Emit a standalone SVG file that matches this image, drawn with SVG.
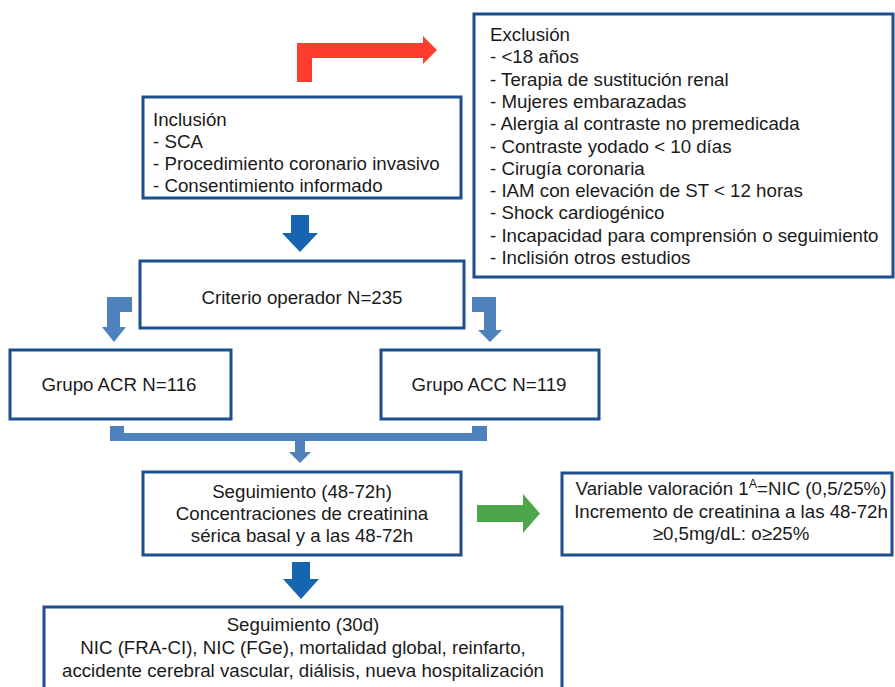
<svg xmlns="http://www.w3.org/2000/svg" width="895" height="687" viewBox="0 0 895 687">
<style>
.box{fill:#fff;stroke:#1d4f8e;stroke-width:3}
text{font-family:"Liberation Sans",Arial,sans-serif;font-size:18.7px;fill:#1a1a1a}
.c{text-anchor:middle}
.lb{fill:#4f81bd}
.db{fill:#1565b0}
.red{fill:#ff3d2e}
.gr{fill:#4ea64b}
</style>
<g id="connectors">
<path class="red" d="M297,82 V43 H423 V36 L437,50 L423,64 V58 H312 V82 Z"/>
<path class="db" d="M291,215 H309 V233 H318 L300,252 L282,233 H291 Z"/>
<path class="lb" d="M132,297 V312 H120 V327 H126 L114,342 L102,327 H107 V297 Z"/>
<path class="lb" d="M472,297 V312 H484 V330 H478 L490,342 L502,330 H496 V297 Z"/>
<path class="lb" d="M110,426 H124 V433 H472 V426 H487 V441 H305 V452 H311 L300,463 L289,452 H295 V441 H110 Z"/>
<path class="gr" d="M477,505 H523 V494 L540,513.5 L523,533 V522 H477 Z"/>
<path class="db" d="M292,562 H310 V579 H319 L301,599 L283,579 H292 Z"/>
</g>
<g id="exclusion">
<rect class="box" x="474" y="14" width="419" height="263"/>
<text x="490" y="41">Exclusión</text>
<text x="490" y="63.3">- &lt;18 años</text>
<text x="490" y="85.6">- Terapia de sustitución renal</text>
<text x="490" y="107.9">- Mujeres embarazadas</text>
<text x="490" y="130.2">- Alergia al contraste no premedicada</text>
<text x="490" y="152.5">- Contraste yodado &lt; 10 días</text>
<text x="490" y="174.8">- Cirugía coronaria</text>
<text x="490" y="197.1">- IAM con elevación de ST &lt; 12 horas</text>
<text x="490" y="219.4">- Shock cardiogénico</text>
<text x="490" y="241.7">- Incapacidad para comprensión o seguimiento</text>
<text x="490" y="264">- Inclisión otros estudios</text>
</g>
<g id="inclusion">
<rect class="box" x="143" y="97" width="318" height="101"/>
<text x="153" y="125.5">Inclusión</text>
<text x="153" y="147.8">- SCA</text>
<text x="153" y="170.1">- Procedimiento coronario invasivo</text>
<text x="153" y="192.4">- Consentimiento informado</text>
</g>
<g id="criterio">
<rect class="box" x="140" y="261" width="324" height="67"/>
<text class="c" x="302" y="303.5">Criterio operador N=235</text>
</g>
<g id="acr">
<rect class="box" x="10" y="350" width="221" height="69"/>
<text class="c" x="119" y="391">Grupo ACR N=116</text>
</g>
<g id="acc">
<rect class="box" x="381" y="350" width="218" height="69"/>
<text class="c" x="489" y="391">Grupo ACC N=119</text>
</g>
<g id="seguimiento48">
<rect class="box" x="143" y="472" width="318" height="83"/>
<text class="c" x="302" y="497.5">Seguimiento (48-72h)</text>
<text class="c" x="302" y="519.8">Concentraciones de creatinina</text>
<text class="c" x="302" y="542">sérica basal y a las 48-72h</text>
</g>
<g id="variable">
<rect class="box" x="562" y="473" width="330" height="82"/>
<text class="c" x="731" y="495">Variable valoración 1<tspan font-size="12.5" dy="-7">A</tspan><tspan dy="7">=NIC (0,5/25%)</tspan></text>
<text class="c" x="731" y="517.5">Incremento de creatinina a las 48-72h</text>
<text class="c" x="731" y="540">≥0,5mg/dL: o≥25%</text>
</g>
<g id="seguimiento30">
<rect class="box" x="44" y="607" width="518" height="90"/>
<text class="c" x="303" y="631">Seguimiento (30d)</text>
<text class="c" x="303" y="654">NIC (FRA-CI), NIC (FGe), mortalidad global, reinfarto,</text>
<text class="c" x="303" y="676.5">accidente cerebral vascular, diálisis, nueva hospitalización</text>
</g>
</svg>
